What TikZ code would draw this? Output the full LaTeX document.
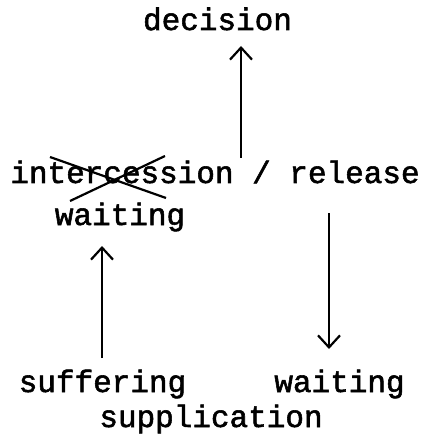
\documentclass[tikz,border=0pt]{standalone}
\usepackage{fontspec}
\newfontfamily\typew{Liberation Mono}[FakeBold=1.8]
\usetikzlibrary{arrows.meta}
\begin{document}
\begin{tikzpicture}[x=1pt,y=-1pt,
  lbl/.style={font=\fontsize{31}{35}\selectfont\typew, inner sep=0pt, anchor=base},
  arr/.style={line width=2.2pt, -{Straight Barb[length=12pt,width=22pt,line width=2.2pt]}},
  xline/.style={line width=2.2pt}]
\useasboundingbox (0,0) rectangle (427,443);
\node[lbl] (dec) at (217.5,30) {decision};
\node[lbl] (mid) at (215,183) {intercession / release};
\node[lbl] (wait1) at (120,225) {waiting};
\node[lbl] (suf) at (102.5,392) {suffering};
\node[lbl] (wait2) at (339.5,392) {waiting};
\node[lbl] (sup) at (211,427) {supplication};
% arrow end points
\coordinate (a1s) at (241,158);
\coordinate (a1e) at (241,46);
\coordinate (a2s) at (102,358);
\coordinate (a2e) at (102,246);
\coordinate (a3s) at (329,213);
\coordinate (a3e) at (329,349);
\draw[arr] (a1s) -- (a1e);
\draw[arr] (a2s) -- (a2e);
\draw[arr] (a3s) -- (a3e);
% crossing out
\coordinate (c1) at (50,157);
\coordinate (c2) at (166,198);
\coordinate (c3) at (70,201);
\coordinate (c4) at (165,156);
\draw[xline] (c1) -- (c2);
\draw[xline] (c3) -- (c4);
\end{tikzpicture}
\end{document}
